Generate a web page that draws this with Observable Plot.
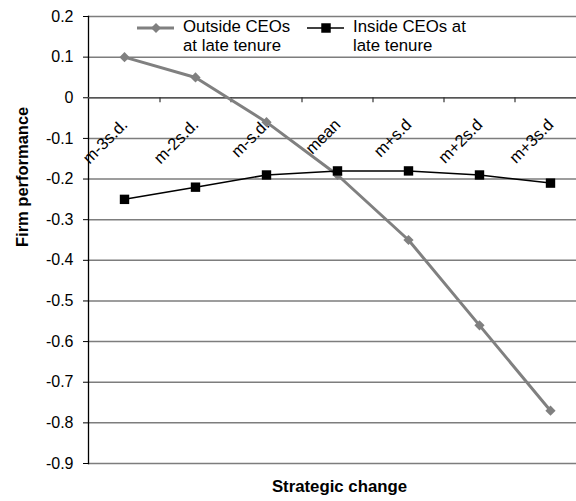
<!DOCTYPE html>
<html>
<head>
<meta charset="utf-8">
<script src="https://cdn.jsdelivr.net/npm/d3@7"></script>
<script src="https://cdn.jsdelivr.net/npm/@observablehq/plot@0.6"></script>
<style>
  html, body { margin: 0; padding: 0; background: #fff; overflow: hidden; }
  #chart svg { display: block; }
</style>
</head>
<body>
<div id="chart"></div>
<script>
// Levels of strategic change (mean ± standard deviations)
const categories = ["m-3s.d.", "m-2s.d.", "m-s.d.", "mean", "m+s.d", "m+2s.d", "m+3s.d"];

// Predicted firm performance for each CEO group
const outsideCEOs = [0.10, 0.05, -0.06, -0.19, -0.35, -0.56, -0.77];
const insideCEOs = [-0.25, -0.22, -0.19, -0.18, -0.18, -0.19, -0.21];

// Vertical axis ticks and their printed labels
const yTicks = [0.2, 0.1, 0, -0.1, -0.2, -0.3, -0.4, -0.5, -0.6, -0.7, -0.8, -0.9];
const yTickLabels = ["0.2", "0.1", "0", "-0.1", "-0.2", "-0.3", "-0.4", "-0.5", "-0.6", "-0.7", "-0.8", "-0.9"];

const seriesNames = ["Outside CEOs\nat late tenure", "Inside CEOs at\nlate tenure"];
const xTitle = "Strategic change";
const yTitle = "Firm performance";

const rows = categories.map((c, i) => ({category: c, outside: outsideCEOs[i], inside: insideCEOs[i]}));

const font = "'Liberation Sans', Arial, Helvetica, sans-serif";
const grey = "#808080";
const xRange = [88, 585];
const xStep = (xRange[1] - xRange[0]) / categories.length;

const chart = Plot.plot({
  width: 576,
  height: 501,
  marginLeft: 88,
  marginRight: 0,
  marginTop: 16,
  marginBottom: 38,
  style: {fontFamily: font, fontSize: "16px", background: "#fff", color: "#000"},
  x: {type: "point", domain: categories, range: xRange, padding: 0.5, axis: null},
  y: {domain: [-0.9, 0.2], axis: null},
  marks: [
    Plot.gridY(yTicks, {stroke: "#7d7d7d", strokeOpacity: 1, strokeWidth: 1.5}),
    Plot.axisY(yTicks, {
      tickSize: 5, tickPadding: 10, fontSize: 16, label: null, stroke: "#000",
      tickFormat: d => yTickLabels[yTicks.indexOf(d)]
    }),
    Plot.frame({anchor: "left", stroke: "#000", strokeWidth: 1.3}),
    // category axis drawn along y = 0
    Plot.ruleY([0], {stroke: "#555", strokeWidth: 1.5}),
    Plot.ruleX(categories.slice(1), {
      x: d => d, y1: () => 0, y2: () => 0, insetBottom: -5,
      dx: -xStep / 2, stroke: "#333", strokeWidth: 1.2
    }),
    Plot.text(categories, {
      x: d => d, y: () => 0, text: d => d, rotate: -45,
      textAnchor: "end", lineAnchor: "bottom", dx: 4, dy: 28, fontSize: 16.5, fill: "#000"
    }),
    // outside CEOs
    Plot.line(rows, {x: "category", y: "outside", stroke: grey, strokeWidth: 3}),
    Plot.dot(rows, {x: "category", y: "outside", symbol: "diamond2", r: 4.6, fill: grey, stroke: "none"}),
    // inside CEOs
    Plot.line(rows, {x: "category", y: "inside", stroke: "#000", strokeWidth: 1.5}),
    Plot.dot(rows, {x: "category", y: "inside", symbol: "square", r: 5.3, fill: "#000", stroke: "none"}),
    // axis titles
    Plot.text([yTitle], {
      frameAnchor: "left", dx: -66, dy: 7, rotate: -90, text: d => d,
      fontSize: 16.5, fontWeight: "bold", fill: "#000"
    }),
    Plot.text([xTitle], {
      frameAnchor: "bottom", dx: 7, dy: 28, text: d => d,
      fontSize: 16.8, fontWeight: "bold", fill: "#000"
    })
  ]
});

document.getElementById("chart").appendChild(chart);

// Legend inside the top band of the plot
const svg = d3.select(chart);
const legend = svg.append("g")
  .attr("font-family", font).attr("font-size", 16.8).attr("fill", "#000")
  .attr("text-anchor", "start");
const items = [
  {name: seriesNames[0], x: 137, stroke: grey, width: 3, symbol: d3.symbolDiamond2, size: 64},
  {name: seriesNames[1], x: 307, stroke: "#000", width: 1.5, symbol: d3.symbolSquare, size: 90}
];
items.forEach(it => {
  const g = legend.append("g").attr("transform", `translate(${it.x},28)`);
  g.append("line").attr("x1", 0).attr("x2", 37).attr("y1", 0).attr("y2", 0)
    .attr("stroke", it.stroke).attr("stroke-width", it.width);
  g.append("path").attr("d", d3.symbol(it.symbol, it.size)()).attr("transform", "translate(19,0)")
    .attr("fill", it.stroke);
  const t = g.append("text").attr("x", 46).attr("y", 4);
  it.name.split("\n").forEach((line, i) => {
    t.append("tspan").attr("x", 46).attr("dy", i === 0 ? 0 : 19).text(line);
  });
});
</script>
</body>
</html>
